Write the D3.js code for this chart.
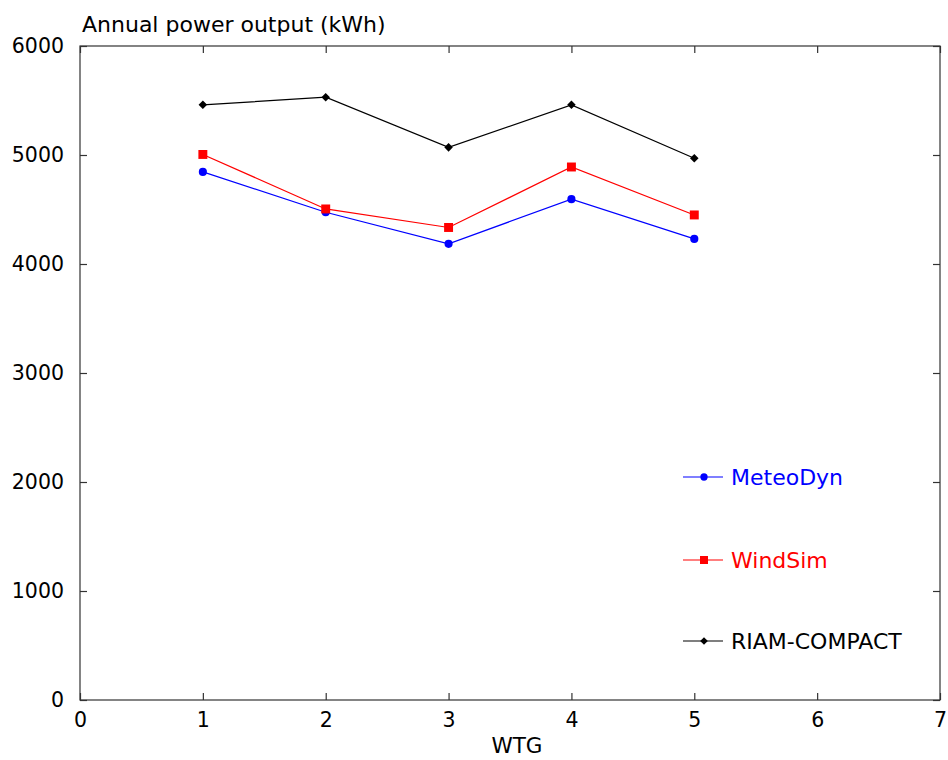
<!DOCTYPE html>
<html><head><meta charset="utf-8">
<script src="https://cdn.jsdelivr.net/npm/d3@7"></script>
<style>body{margin:0;background:#fff}svg{display:block}text{font-family:"DejaVu Sans",sans-serif}</style>
</head><body>
<svg id="c" width="948" height="760"></svg>
<script>
const wtg = [1, 2, 3, 4, 5];
const meteoDyn = [4845, 4475, 4185, 4595, 4230];
const windSim = [5005, 4505, 4335, 4890, 4450];
const riamCompact = [5460, 5530, 5070, 5460, 4970];
const xTicks = [0, 1, 2, 3, 4, 5, 6, 7];
const yTicks = [0, 1000, 2000, 3000, 4000, 5000, 6000];
const seriesNames = ["MeteoDyn", "WindSim", "RIAM-COMPACT"];

const svg = d3.select("#c");
const L = 80, R = 940, T = 46, B = 700;
const x = d3.scaleLinear().domain([0, 7]).range([L, R]);
const y = d3.scaleLinear().domain([0, 6000]).range([B, T]);
const axisColor = "#333";

svg.append("rect").attr("x", L).attr("y", T).attr("width", R - L).attr("height", B - T)
  .attr("fill", "none").attr("stroke", axisColor).attr("stroke-width", 1.2);

const tk = 7;
const gb = svg.append("g").attr("transform", `translate(0,${B})`)
  .call(d3.axisBottom(x).tickValues(xTicks).tickFormat(d3.format("d")).tickSize(-tk).tickPadding(12));
const gt = svg.append("g").attr("transform", `translate(0,${T})`)
  .call(d3.axisTop(x).tickValues(xTicks).tickFormat("").tickSize(-tk));
const gl = svg.append("g").attr("transform", `translate(${L},0)`)
  .call(d3.axisLeft(y).tickValues(yTicks).tickFormat(d3.format("d")).tickSize(-tk).tickPadding(16));
const gr = svg.append("g").attr("transform", `translate(${R},0)`)
  .call(d3.axisRight(y).tickValues(yTicks).tickFormat("").tickSize(-tk));
[gb, gt, gl, gr].forEach(g => {
  g.select(".domain").remove();
  g.selectAll(".tick line").attr("stroke", axisColor).attr("stroke-width", 1.2);
  g.selectAll(".tick text").attr("font-size", 20.5).attr("fill", "#000")
    .attr("font-family", '"DejaVu Sans",sans-serif');
});

svg.append("text").attr("x", 82).attr("y", 32).attr("font-size", 22).text("Annual power output (kWh)");
svg.append("text").attr("x", 517).attr("y", 753).attr("text-anchor", "middle")
  .attr("font-size", 21.5).text("WTG");

const diamond = {draw(ctx, size) { const r = Math.sqrt(size) / 2 * 1.1;
  ctx.moveTo(0, -r); ctx.lineTo(r, 0); ctx.lineTo(0, r); ctx.lineTo(-r, 0); ctx.closePath(); }};
const series = [
  {name: seriesNames[0], vals: meteoDyn, color: "#0000ff", shape: d3.symbolCircle, size: 52},
  {name: seriesNames[1], vals: windSim, color: "#ff0000", shape: d3.symbolSquare, size: 80},
  {name: seriesNames[2], vals: riamCompact, color: "#000000", shape: diamond, size: 60}
];
const line = d3.line().x((d, i) => x(wtg[i])).y(d => y(d));
const legY = [477, 560, 641];
series.forEach((s, si) => {
  svg.append("path").attr("d", line(s.vals)).attr("fill", "none")
    .attr("stroke", s.color).attr("stroke-width", 1.2);
  const sym = d3.symbol().type(s.shape).size(s.size);
  svg.selectAll(null).data(s.vals).enter().append("path")
    .attr("d", sym).attr("fill", s.color)
    .attr("transform", (d, i) => `translate(${x(wtg[i])},${y(d)})`);
  const ly = legY[si];
  svg.append("line").attr("x1", 683).attr("x2", 723).attr("y1", ly).attr("y2", ly)
    .attr("stroke", s.color).attr("stroke-width", 1.2);
  const lsym = d3.symbol().type(s.shape).size(s.size * 0.8);
  svg.append("path").attr("d", lsym).attr("fill", s.color).attr("transform", `translate(704,${ly})`);
  svg.append("text").attr("x", 731).attr("y", ly + 8).attr("font-size", 22)
    .attr("fill", s.color).text(s.name);
});
</script>
</body></html>
